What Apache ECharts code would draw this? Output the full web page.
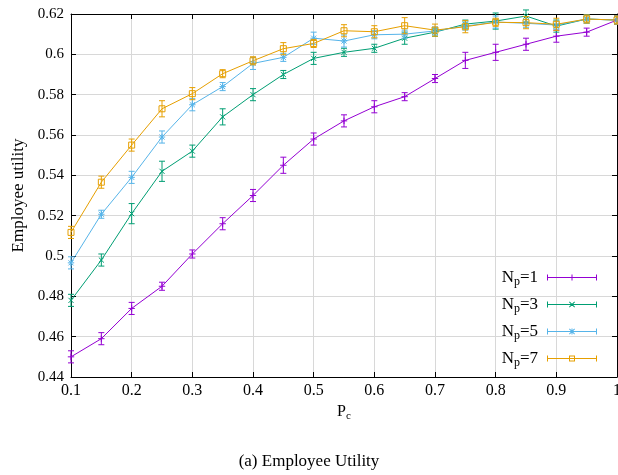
<!DOCTYPE html>
<html>
<head>
<meta charset="utf-8">
<script src="https://cdn.jsdelivr.net/npm/echarts@6/dist/echarts.min.js"></script>
<style>html,body{margin:0;padding:0;background:#fff}#c{width:618px;height:475px}</style>
</head>
<body>
<div id="c"></div>
<script>
var xs = [0.1,0.15,0.2,0.25,0.3,0.35,0.4,0.45,0.5,0.55,0.6,0.65,0.7,0.75,0.8,0.85,0.9,0.95,1.0];
var np1 = [0.450,0.459,0.474,0.485,0.501,0.516,0.530,0.545,0.558,0.567,0.574,0.579,0.588,0.597,0.601,0.605,0.609,0.611,0.617];
var np1Err = [0.003,0.003,0.003,0.002,0.002,0.003,0.003,0.004,0.003,0.003,0.003,0.002,0.002,0.004,0.004,0.003,0.003,0.002,0.002];
var np3 = [0.478,0.498,0.521,0.542,0.552,0.569,0.580,0.590,0.598,0.601,0.603,0.608,0.611,0.615,0.6165,0.619,0.614,0.6175,0.617];
var np3Err = [0.003,0.003,0.005,0.005,0.003,0.004,0.003,0.002,0.003,0.002,0.002,0.003,0.002,0.002,0.004,0.003,0.003,0.002,0.002];
var np5 = [0.4966,0.5207,0.539,0.559,0.575,0.584,0.5955,0.5985,0.608,0.6066,0.6097,0.610,0.6116,0.614,0.616,0.6154,0.6145,0.6175,0.617];
var np5Err = [0.003,0.002,0.003,0.003,0.003,0.002,0.003,0.002,0.003,0.003,0.002,0.002,0.002,0.002,0.003,0.002,0.002,0.002,0.002];
var np7 = [0.5117,0.5366,0.555,0.573,0.5805,0.5904,0.5968,0.6028,0.6054,0.6117,0.6112,0.6142,0.612,0.6137,0.6159,0.6157,0.6149,0.6175,0.617];
var np7Err = [0.003,0.003,0.003,0.004,0.003,0.002,0.002,0.003,0.002,0.003,0.003,0.004,0.003,0.003,0.002,0.003,0.003,0.002,0.002];
var xTicks = [0.1,0.2,0.3,0.4,0.5,0.6,0.7,0.8,0.9,1];
var yTicks = [0.44,0.46,0.48,0.5,0.52,0.54,0.56,0.58,0.6,0.62];
var seriesNames = ['N_p=1','N_p=3','N_p=5','N_p=7'];

var colors = ['#9400d3','#009e73','#56b4e9','#e69f00'];
var markers = ['plus','cross','star','square'];
var ys = [np1,np3,np5,np7];
var errs = [np1Err,np3Err,np5Err,np7Err];
var FONT = 'Liberation Serif';

function rows(y, e){ return xs.map(function(x,i){ return [x, y[i], e[i]]; }); }

function markerShapes(type, cx, cy, color){
  var s = 3.2, out = [];
  var st = {stroke: color, lineWidth: 1, fill: 'none'};
  function ln(x1,y1,x2,y2){ out.push({type:'line', shape:{x1:x1,y1:y1,x2:x2,y2:y2}, style:st}); }
  if (type === 'plus' || type === 'star') { ln(cx-s,cy,cx+s,cy); ln(cx,cy-s,cx,cy+s); }
  if (type === 'cross' || type === 'star') { var d = s*0.8; ln(cx-d,cy-d,cx+d,cy+d); ln(cx-d,cy+d,cx+d,cy-d); }
  if (type === 'square') { out.push({type:'rect', shape:{x:cx-3,y:cy-3,width:6,height:6}, style:st}); }
  return out;
}

function makeRender(k){
  return function(params, api){
    var x = api.value(0), y = api.value(1), e = api.value(2);
    var p = api.coord([x,y]), t = api.coord([x,y+e]), b = api.coord([x,y-e]);
    var c = colors[k];
    var st = {stroke: c, lineWidth: 1};
    var ch = [
      {type:'line', shape:{x1:p[0],y1:t[1],x2:p[0],y2:b[1]}, style:st},
      {type:'line', shape:{x1:p[0]-3,y1:t[1],x2:p[0]+3,y2:t[1]}, style:st},
      {type:'line', shape:{x1:p[0]-3,y1:b[1],x2:p[0]+3,y2:b[1]}, style:st}
    ].concat(markerShapes(markers[k], p[0], p[1], c));
    return {type:'group', children: ch};
  };
}

var base = 'M0,2h1v6h-1z M49,2h1v6h-1z M0,4.5h50v1h-50z ';
var iconMarks = {
  plus: 'M24.5,2h1v6h-1z M22,4.5h6v1h-6z',
  cross: 'M22,2.7L22.7,2L28,7.3L27.3,8z M22,7.3L27.3,2L28,2.7L22.7,8z',
  star: 'M22,2.7L22.7,2L28,7.3L27.3,8z M22,7.3L27.3,2L28,2.7L22.7,8z M24.5,2h1v6h-1z M22,4.5h6v1h-6z',
  square: 'M22,2h6v1h-6z M22,7h6v1h-6z M22,2h1v6h-1z M27,2h1v6h-1z'
};

var series = [];
var legendData = [];
for (var k = 0; k < 4; k++) {
  series.push({
    name: seriesNames[k], type: 'line', data: xs.map(function(x,i){ return [x, ys[k][i]]; }),
    symbol: 'none', lineStyle: {color: colors[k], width: 1}, itemStyle: {color: colors[k]},
    z: 2, animation: false
  });
  series.push({
    name: seriesNames[k] + ' err', type: 'custom', data: rows(ys[k], errs[k]),
    renderItem: makeRender(k), z: 3, animation: false, clip: false
  });
  legendData.push({name: seriesNames[k], icon: 'path://' + base + iconMarks[markers[k]],
    itemStyle: {color: colors[k], borderWidth: 0}});
}

var axisCommon = {
  type: 'value',
  axisLine: {show: true, lineStyle: {color: '#000', width: 1}},
  axisTick: {show: true, inside: true, length: 5, lineStyle: {color: '#000'}},
  splitLine: {show: false}
};

var chart = echarts.init(document.getElementById('c'), null, {renderer: 'canvas'});
chart.setOption({
  backgroundColor: '#fff',
  animation: false,
  textStyle: {fontFamily: FONT},
  title: {
    text: '(a) Employee Utility', left: 'center', top: 448,
    textStyle: {fontFamily: FONT, fontSize: 17, fontWeight: 'normal', color: '#000'}
  },
  grid: {left: 71, right: 1, top: 14, bottom: 98, containLabel: false, outerBoundsMode: 'none'},
  legend: {
    data: legendData, orient: 'vertical', right: 16, top: 264, align: 'right',
    itemWidth: 50, itemHeight: 6, itemGap: 8,
    textStyle: {
      fontFamily: FONT, fontSize: 17, color: '#000', padding: [0, 4, 0, 0],
      rich: {n: {fontFamily: FONT, fontSize: 17, color: '#000'},
             s: {fontFamily: FONT, fontSize: 12, color: '#000', padding: [9, 0, 0, 0]}}
    },
    formatter: function(name){
      var parts = name.split('_p');
      return '{n|' + parts[0] + '}{s|p}{n|' + parts[1] + '}';
    }
  },
  xAxis: [
    Object.assign({}, axisCommon, {
      min: 0.1, max: 1, interval: 0.1,
      name: '{n|P}{s|c}', nameLocation: 'middle', nameGap: 25,
      nameTextStyle: {fontFamily: FONT, color: '#000',
        rich: {n: {fontFamily: FONT, fontSize: 16, color: '#000'},
               s: {fontFamily: FONT, fontSize: 11, color: '#000', padding: [9, 0, 0, 0]}}},
      axisLabel: {fontFamily: FONT, fontSize: 16, color: '#000', margin: 6,
        formatter: function(v){ return String(Math.round(v*10)/10); }},
      splitLine: {show: true, lineStyle: {color: '#d8d8d8', width: 1}}
    }),
    Object.assign({}, axisCommon, {
      position: 'top', min: 0.1, max: 1, interval: 0.1, axisLabel: {show: false}
    })
  ],
  yAxis: [
    Object.assign({}, axisCommon, {
      min: 0.44, max: 0.62, interval: 0.02,
      name: 'Employee utility', nameLocation: 'middle', nameGap: 44,
      nameTextStyle: {fontFamily: FONT, fontSize: 17, color: '#000'},
      axisLabel: {fontFamily: FONT, fontSize: 15, color: '#000', margin: 7,
        formatter: function(v){ return String(Math.round(v*100)/100); }},
      splitLine: {show: true, lineStyle: {color: '#d8d8d8', width: 1}}
    }),
    Object.assign({}, axisCommon, {
      position: 'right', min: 0.44, max: 0.62, interval: 0.02, axisLabel: {show: false}
    })
  ],
  series: series
});
</script>
</body>
</html>
